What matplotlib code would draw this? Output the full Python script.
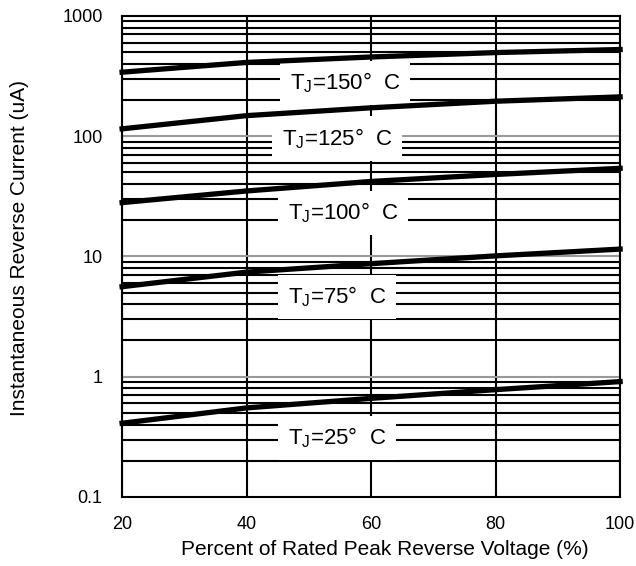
import numpy as np
import matplotlib
matplotlib.use("Agg")
import matplotlib.pyplot as plt
from matplotlib.ticker import NullFormatter, LogLocator

plt.rcParams["font.family"] = ["Liberation Sans", "DejaVu Sans"]
plt.rcParams["mathtext.fontset"] = "custom"
plt.rcParams["mathtext.rm"] = "Liberation Sans"

# percent of rated peak reverse voltage
volt = [20, 40, 60, 80, 100]

# reverse current (uA) per junction temperature
ir_150 = [340, 410, 455, 495, 525]
ir_125 = [115, 148, 172, 195, 212]
ir_100 = [28, 35, 42, 48, 54]
ir_75 = [5.6, 7.4, 8.7, 10.1, 11.5]
ir_25 = [0.41, 0.55, 0.66, 0.78, 0.91]

temps = ["150", "125", "100", "75", "25"]
label_x = [55.8, 54.5, 55.5, 54.5, 54.5]
label_y = [277, 96, 22.9, 4.6, 0.31]

fig = plt.figure(figsize=(6.36, 5.66), dpi=100)
ax = fig.add_axes([0.192, 0.122, 0.783, 0.850])

ax.set_yscale("log")
ax.set_xlim(20, 100)
ax.set_ylim(0.1, 1000)

ax.set_xticks([20, 40, 60, 80, 100])
ax.set_yticks([0.1, 1, 10, 100, 1000])
ax.set_yticklabels(["0.1", "1", "10", "100", "1000"])
ax.yaxis.set_minor_locator(LogLocator(base=10, subs=np.arange(2, 10)))
ax.yaxis.set_minor_formatter(NullFormatter())
ax.tick_params(which="both", length=0, labelsize=13)
ax.tick_params(axis="y", pad=14)
ax.tick_params(axis="x", pad=14)

# grid: gray at decades, black at minors and vertical
ax.grid(True, which="minor", axis="y", color="black", lw=1.5)
for d in [1, 10, 100]:
    ax.axhline(d, color="#999999", lw=1.5, zorder=1)
ax.grid(True, which="major", axis="x", color="black", lw=1.5)
ax.set_axisbelow(True)

for s in ax.spines.values():
    s.set_linewidth(1.5)

for ys in [ir_150, ir_125, ir_100, ir_75, ir_25]:
    ax.plot(volt, ys, color="black", lw=3.8, zorder=4, clip_on=False)

for t, lx, ly in zip(temps, label_x, label_y):
    ax.text(lx, ly, r"T$_\mathregular{J}$=" + t + "°  C", fontsize=16,
            ha="center", va="center", zorder=3,
            bbox=dict(boxstyle="square,pad=0.45", fc="white", ec="none"))

ax.set_xlabel("Percent of Rated Peak Reverse Voltage (%)", fontsize=15)
ax.set_ylabel("Instantaneous Reverse Current (uA)", fontsize=15)
ax.xaxis.set_label_coords(0.528, -0.09)
ax.yaxis.set_label_coords(-0.187, 0.518)

fig.savefig("out.png", dpi=100)
